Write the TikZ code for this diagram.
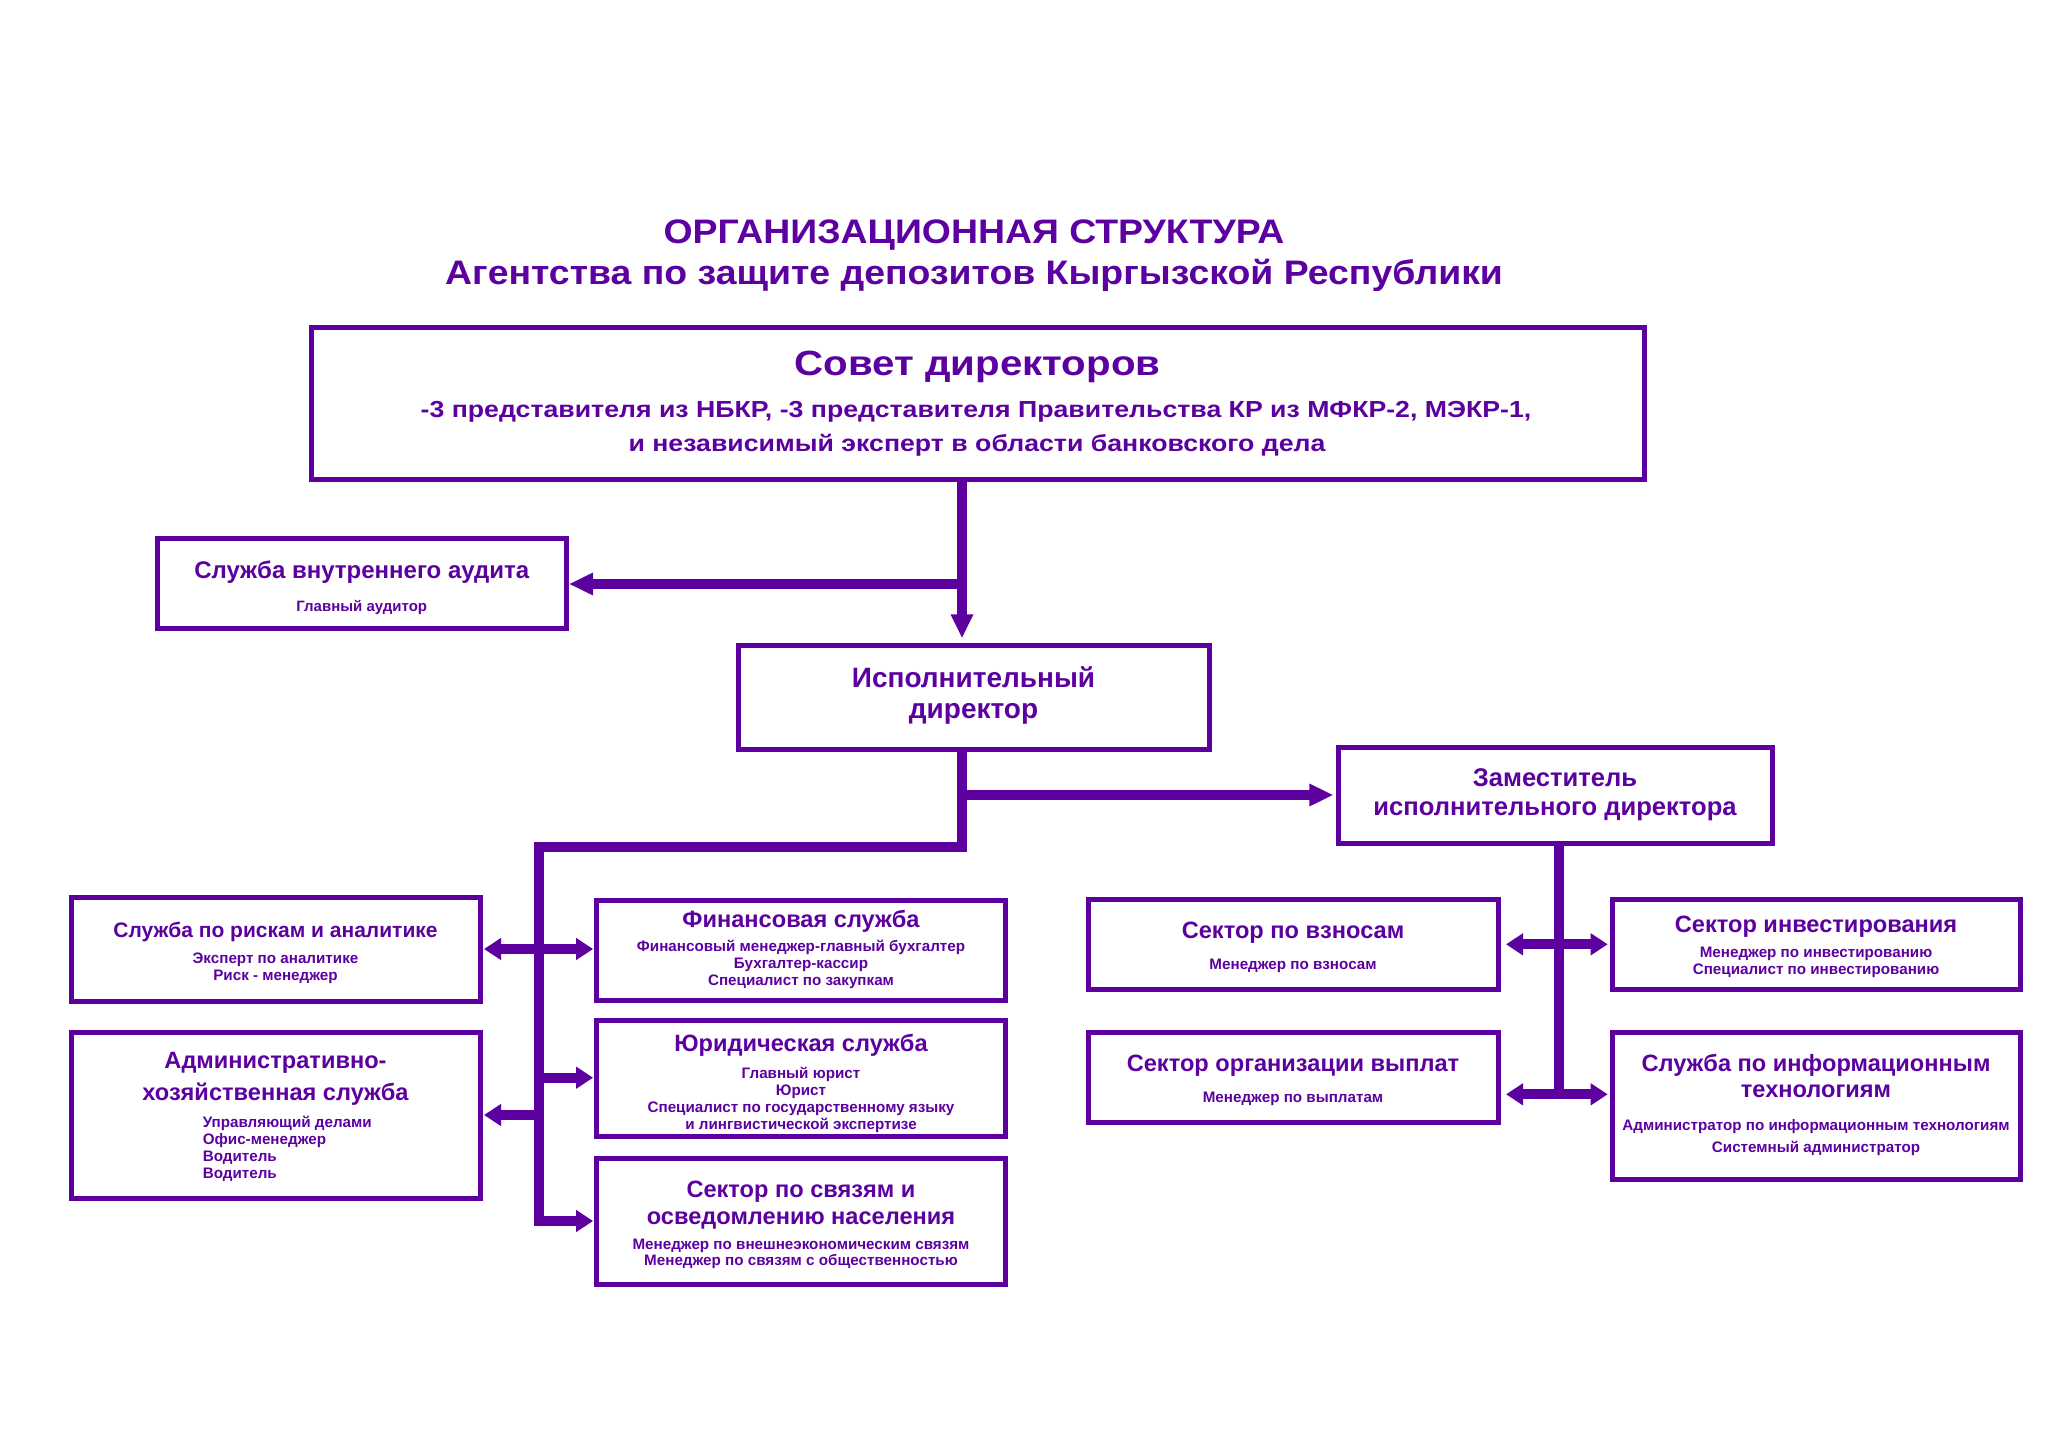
\documentclass[tikz,border=0pt]{standalone}
\usepackage{fontspec}
\setmainfont{Liberation Sans}
\newfontfamily\wideA{Liberation Sans}[FakeStretch=1.1]
\newfontfamily\wideB{Liberation Sans}[FakeStretch=1.15]
\usetikzlibrary{arrows.meta}
\definecolor{pp}{RGB}{92,0,160}
\newcommand\mybox[5]{\node[bx, minimum width={(#4-#2)*0.5pt}, minimum height={(#5-#3)*0.5pt}] (#1) at ({(#2+#4)/2},{(#3+#5)/2}) {};}
\newcommand\tx[5]{\node[#4] (#1) at (#2,#3) {#5};}
\tikzset{
  bx/.style={draw=pp, line width=2.5pt, inner sep=0pt, outer sep=0pt, rectangle, fill=white},
  base/.style={text=pp, inner sep=0pt, anchor=mid},
  hd/.style={base, anchor=base, font=\wideA\bfseries\fontsize{17}{20}\selectfont},
  bt/.style={base, anchor=base, font=\wideB\bfseries\fontsize{17.5}{21}\selectfont},
  bl/.style={base, anchor=base, font=\wideB\bfseries\fontsize{11.6}{14}\selectfont},
  ttl/.style={base, font=\bfseries\fontsize{11.8}{14}\selectfont},
  sub/.style={base, font=\bfseries\fontsize{7.6}{9}\selectfont},
  conn/.style={draw=pp, line width=5pt, line join=miter},
  bigtip/.tip={Triangle[length=12pt,width=10.5pt]},
  smtip/.tip={Triangle[length=8.5pt,width=10.5pt]}
}
\begin{document}
\begin{tikzpicture}[x=0.5pt,y=-0.5pt]
\useasboundingbox (0,0) rectangle (2048,1449);
\fill[white] (0,0) rectangle (2048,1449);

% heading
\tx{h1}{974}{243.3}{hd}{ОРГАНИЗАЦИОННАЯ СТРУКТУРА}
\tx{h2}{974}{285}{hd}{Агентства по защите депозитов Кыргызской Республики}

% boxes
\mybox{board}{311}{328}{1644}{479.5}
\mybox{audit}{157.5}{538}{566}{628.5}
\mybox{exec}{738}{645.3}{1209}{749.5}
\mybox{deputy}{1338}{747.5}{1772}{843.5}
\mybox{risk}{71}{897.5}{480}{1001.5}
\mybox{admin}{71}{1032.5}{480}{1198}
\mybox{fin}{596.7}{900}{1005.5}{1000}
\mybox{legal}{596.7}{1020.5}{1005.5}{1136.5}
\mybox{svyazi}{596.7}{1158}{1005.5}{1284}
\mybox{vznosy}{1088}{899}{1498}{989}
\mybox{invest}{1612.5}{899}{2020}{989}
\mybox{vyplat}{1088}{1032.5}{1498}{1122}
\mybox{it}{1612.5}{1032.5}{2020}{1179}

% connector coordinates
\coordinate (bv) at (962,584);
\coordinate (eb) at (962,847);
\coordinate (dj) at (962,795);
\coordinate (lt) at (538.7,847);
\coordinate (lb) at (538.7,1221);
\coordinate (c1) at (538.7,949);
\coordinate (c2) at (538.7,1077.7);
\coordinate (c3) at (538.7,1115);
\coordinate (rb) at (1559,1098);
\coordinate (r1) at (1559,944.3);
\coordinate (r2) at (1559,1094.3);

% connectors
\draw[conn,-{bigtip},shorten >=3.5pt] (bv |- board.south) -- (bv |- exec.north);
\draw[conn,-{bigtip},shorten >=1.5pt] (bv) -- (bv -| audit.east);
\draw[conn,-{smtip},shorten >=1.8pt] (exec.south -| eb) -- (eb) -- (lt) -- (lb) -- (lb -| svyazi.west);
\draw[conn,-{bigtip},shorten >=2.3pt] (dj) -- (dj -| deputy.west);
\draw[conn,{smtip}-{smtip},shorten <=2pt,shorten >=1.8pt] (c1 -| risk.east) -- (c1 -| fin.west);
\draw[conn,-{smtip},shorten >=1.8pt] (c2) -- (c2 -| legal.west);
\draw[conn,-{smtip},shorten >=2pt] (c3) -- (c3 -| admin.east);
\draw[conn] (deputy.south -| rb) -- (rb);
\draw[conn,{smtip}-{smtip},shorten <=4pt,shorten >=2.4pt] (r1 -| vznosy.east) -- (r1 -| invest.west);
\draw[conn,{smtip}-{smtip},shorten <=4pt,shorten >=2.4pt] (r2 -| vyplat.east) -- (r2 -| it.west);

% board text
\tx{bt1}{977.5}{375}{bt}{Совет директоров}
\tx{bt2}{976}{417.5}{bl}{-3 представителя из НБКР, -3 представителя Правительства КР из МФКР-2, МЭКР-1,}
\tx{bt3}{977}{451}{bl}{и независимый эксперт в области банковского дела}

% audit
\tx{au1}{361.75}{572.9}{ttl,font=\bfseries\fontsize{12}{14}\selectfont}{Служба внутреннего аудита}
\tx{au2}{361.75}{605.8}{sub,font=\bfseries\fontsize{7.5}{9}\selectfont}{Главный аудитор}

% exec
\tx{ex1}{973.5}{682.6}{ttl,font=\bfseries\fontsize{14}{16}\selectfont}{Исполнительный}
\tx{ex2}{973.5}{713.6}{ttl,font=\bfseries\fontsize{14}{16}\selectfont}{директор}

% deputy
\tx{dp1}{1555}{781.6}{ttl,font=\bfseries\fontsize{12.8}{15}\selectfont}{Заместитель}
\tx{dp2}{1555}{810.6}{ttl,font=\bfseries\fontsize{12.8}{15}\selectfont}{исполнительного директора}

% risk
\tx{rk1}{275.5}{931.9}{ttl,font=\bfseries\fontsize{10.5}{13}\selectfont}{Служба по рискам и аналитике}
\tx{rk2}{275.5}{958}{sub}{Эксперт по аналитике}
\tx{rk3}{275.5}{975}{sub}{Риск - менеджер}

% admin
\tx{ad1}{275.5}{1063.6}{ttl}{Административно-}
\tx{ad2}{275.5}{1095.1}{ttl}{хозяйственная служба}
\tx{ad3}{202.4}{1122.5}{sub,anchor=mid west}{Управляющий делами}
\tx{ad4}{202.4}{1139.5}{sub,anchor=mid west}{Офис-менеджер}
\tx{ad5}{202.4}{1156.5}{sub,anchor=mid west}{Водитель}
\tx{ad6}{202.4}{1173.5}{sub,anchor=mid west}{Водитель}

% finance
\tx{fn1}{801}{922.6}{ttl}{Финансовая служба}
\tx{fn2}{801}{946}{sub}{Финансовый менеджер-главный бухгалтер}
\tx{fn3}{801}{963}{sub}{Бухгалтер-кассир}
\tx{fn4}{801}{980}{sub}{Специалист по закупкам}

% legal
\tx{lg1}{801}{1046.6}{ttl}{Юридическая служба}
\tx{lg2}{801}{1073}{sub}{Главный юрист}
\tx{lg3}{801}{1090}{sub}{Юрист}
\tx{lg4}{801}{1107}{sub}{Специалист по государственному языку}
\tx{lg5}{801}{1124}{sub}{и лингвистической экспертизе}

% svyazi
\tx{sv1}{801}{1192.4}{ttl}{Сектор по связям и}
\tx{sv2}{801}{1219.1}{ttl}{осведомлению населения}
\tx{sv3}{801}{1244}{sub}{Менеджер по внешнеэкономическим связям}
\tx{sv4}{801}{1260}{sub}{Менеджер по связям с общественностью}

% vznosy
\tx{vz1}{1293}{933.3}{ttl}{Сектор по взносам}
\tx{vz2}{1293}{964.7}{sub}{Менеджер по взносам}

% invest
\tx{iv1}{1816}{927.6}{ttl}{Сектор инвестирования}
\tx{iv2}{1816}{952.7}{sub}{Менеджер по инвестированию}
\tx{iv3}{1816}{969.7}{sub}{Специалист по инвестированию}

% vyplat
\tx{vy1}{1293}{1066.3}{ttl}{Сектор организации выплат}
\tx{vy2}{1293}{1097.7}{sub}{Менеджер по выплатам}

% it
\tx{it1}{1816}{1066.6}{ttl}{Служба по информационным}
\tx{it2}{1816}{1092.6}{ttl}{технологиям}
\tx{it3}{1816}{1125}{sub}{Администратор по информационным технологиям}
\tx{it4}{1816}{1147}{sub}{Системный администратор}
\end{tikzpicture}
\end{document}
